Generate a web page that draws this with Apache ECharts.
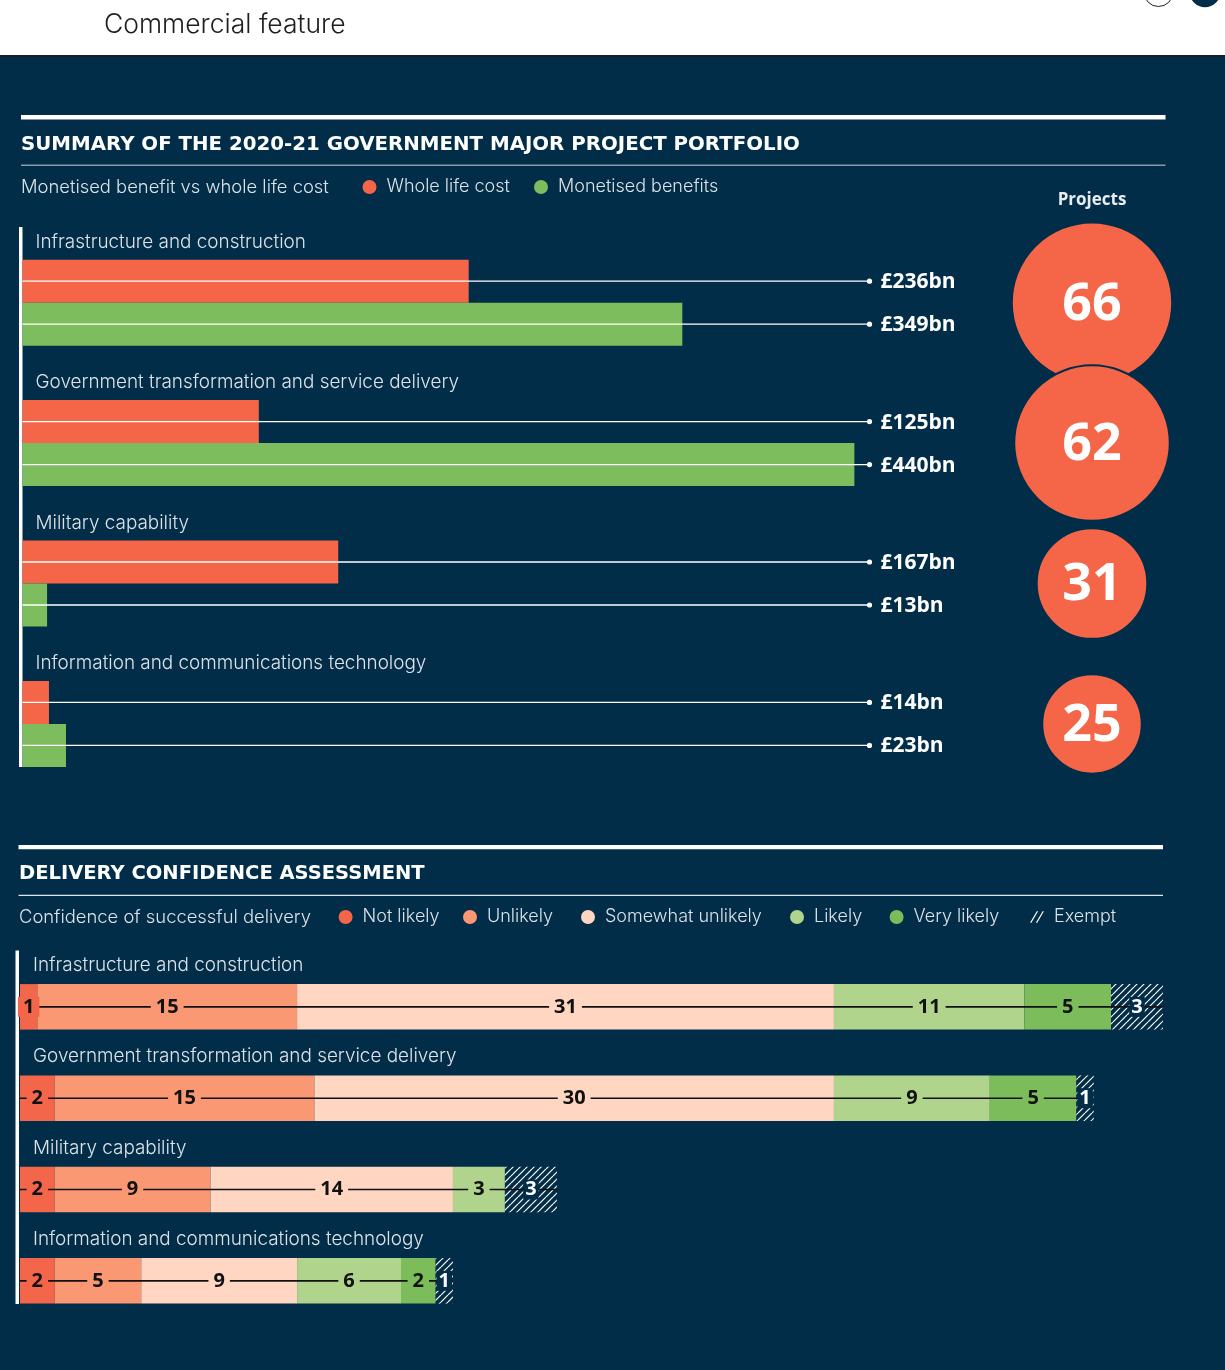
<!DOCTYPE html>
<html>
<head>
<meta charset="utf-8">
<title>Government major project portfolio</title>
<script src="https://cdn.jsdelivr.net/npm/echarts@6.0.0/dist/echarts.min.js"></script>
<style>
  html, body { margin: 0; padding: 0; background: #012d48; }
  #chart { width: 1225px; height: 1370px; }
</style>
</head>
<body>
<div id="chart"></div>
<script>
// portfolio categories (both panels)
const categories = [
  'Infrastructure and construction',
  'Government transformation and service delivery',
  'Military capability',
  'Information and communications technology'
];

// £bn
const wholeLifeCost = [236, 125, 167, 14];
const monetisedBenefits = [349, 440, 13, 23];
const projectCounts = [66, 62, 31, 25];

// delivery confidence, number of projects
const confidenceLevels = ['Not likely', 'Unlikely', 'Somewhat unlikely', 'Likely', 'Very likely', 'Exempt'];
const notLikely = [1, 2, 2, 2];
const unlikely = [15, 15, 9, 5];
const somewhatUnlikely = [31, 30, 14, 9];
const likely = [11, 9, 3, 6];
const veryLikely = [5, 5, 0, 2];
const exempt = [3, 1, 3, 1];

const NAVY = '#012d48';
const RED = '#f46647';
const GREEN = '#7dbd5e';
const levelColors = ['#f4664a', '#f99872', '#fed6c2', '#b1d48d', '#7cbc5b', NAVY];
const FONT = '"Open Sans", "DejaVu Sans", sans-serif';
const LIGHT_FONT = 'Inter, "Open Sans", sans-serif';
const TITLE_FONT = '"DejaVu Sans", sans-serif';
const LABEL_GREY = '#dce2e7';

const COST_BAR = 43;
const COST_MAX = 448;
const CONF_BAR = 45.5;

// hatch for exempt
const hatch = document.createElement('canvas');
hatch.width = hatch.height = 7;
(function () {
  const ctx = hatch.getContext('2d');
  ctx.fillStyle = NAVY;
  ctx.fillRect(0, 0, 7, 7);
  ctx.strokeStyle = '#ffffff';
  ctx.lineWidth = 1.2;
  [0, 7, 14].forEach(k => {
    ctx.beginPath();
    ctx.moveTo(k - 7, 7);
    ctx.lineTo(k, 0);
    ctx.stroke();
  });
})();

const levels = [notLikely, unlikely, somewhatUnlikely, likely, veryLikely, exempt];
const rowTotals = categories.map((c, i) => levels.reduce((s, arr) => s + arr[i], 0));

const leaderData = [];
categories.forEach((c, i) => {
  leaderData.push([wholeLifeCost[i], i, 0]);
  leaderData.push([monetisedBenefits[i], i, 1]);
});

const segmentData = [];
categories.forEach((c, row) => {
  let start = 0;
  levels.forEach((arr, k) => {
    const v = arr[row];
    if (v > 0) segmentData.push([start, start + v, row, v, k]);
    start += v;
  });
});

function categoryLabel(dy) {
  return function (params, api) {
    const p = api.coord([0, api.value(1)]);
    return {
      type: 'text',
      x: p[0] + 13,
      y: p[1] + dy,
      style: {
        text: categories[api.value(1)],
        fill: LABEL_GREY,
        fontSize: 18.9,
        fontFamily: LIGHT_FONT,
        fontWeight: 300,
        verticalAlign: 'middle'
      }
    };
  };
}

function renderLeader(params, api) {
  const row = api.value(1);
  const side = api.value(2) === 0 ? -1 : 1;
  const left = api.coord([0, row]);
  const right = api.coord([COST_MAX, row]);
  const y = left[1] + side * COST_BAR / 2;
  return {
    type: 'group',
    children: [
      { type: 'line', shape: { x1: left[0], y1: y, x2: right[0], y2: y }, style: { stroke: '#ffffff', lineWidth: 1.3 } },
      { type: 'circle', shape: { cx: right[0], cy: y, r: 2.6 }, style: { fill: '#ffffff' } },
      {
        type: 'text', x: right[0] + 11, y: y + 1,
        style: { text: '£' + api.value(0) + 'bn', fill: '#ffffff', fontSize: 21, fontWeight: 'bold', fontFamily: FONT, verticalAlign: 'middle' }
      }
    ]
  };
}

function renderRowLine(params, api) {
  const a = api.coord([0, api.value(1)]);
  const b = api.coord([api.value(0), api.value(1)]);
  return { type: 'line', shape: { x1: a[0], y1: a[1], x2: b[0], y2: b[1] }, style: { stroke: '#111111', lineWidth: 1.6 } };
}

function renderSegmentLabel(params, api) {
  const row = api.value(2);
  const p0 = api.coord([api.value(0), row]);
  const p1 = api.coord([api.value(1), row]);
  const k = api.value(4);
  const isExempt = k === 5;
  return {
    type: 'text',
    x: (p0[0] + p1[0]) / 2,
    y: p0[1],
    style: {
      text: String(api.value(3)),
      fill: isExempt ? '#ffffff' : '#111111',
      fontSize: 20,
      fontWeight: 'bold',
      fontFamily: FONT,
      align: 'center',
      verticalAlign: 'middle',
      backgroundColor: levelColors[k],
      padding: [0, isExempt ? 2 : 5]
    }
  };
}

const legendTextStyle = { color: LABEL_GREY, fontSize: 18, fontFamily: LIGHT_FONT, fontWeight: 300, padding: [0, 0, 0, 5] };
function legendItem(item, left, top) {
  return {
    data: [item], left: left, top: top, padding: 0,
    itemWidth: 14, itemHeight: 14, icon: 'circle',
    selectedMode: false, textStyle: legendTextStyle
  };
}

const chart = echarts.init(document.getElementById('chart'));

const option = {
  backgroundColor: NAVY,
  animation: false,
  textStyle: { fontFamily: FONT },
  graphic: [
    { type: 'rect', shape: { x: 0, y: 0, width: 1225, height: 55 }, style: { fill: '#ffffff' } },
    { type: 'rect', shape: { x: 0, y: 55, width: 1225, height: 1.5 }, style: { fill: '#1b1b1b' } },
    { type: 'text', x: 104, y: 25, style: { text: 'Commercial feature', fill: '#1d1d1d', fontSize: 26.5, fontWeight: 300, fontFamily: LIGHT_FONT, verticalAlign: 'middle' } },
    { type: 'circle', shape: { cx: 1158.5, cy: -8, r: 14.5 }, style: { fill: '#ffffff', stroke: '#222222', lineWidth: 1 } },
    { type: 'circle', shape: { cx: 1205, cy: -8, r: 15.3 }, style: { fill: NAVY } },

    // summary panel
    { type: 'rect', shape: { x: 21, y: 115, width: 1144.5, height: 4.5 }, style: { fill: '#ffffff' } },
    { type: 'text', x: 21, y: 145, style: { text: 'SUMMARY OF THE 2020-21 GOVERNMENT MAJOR PROJECT PORTFOLIO', fill: '#ffffff', fontSize: 19.8, fontWeight: 'bold', fontFamily: TITLE_FONT, verticalAlign: 'middle' } },
    { type: 'rect', shape: { x: 21, y: 164.5, width: 1144.5, height: 1.5 }, style: { fill: '#8a9aa8' } },
    { type: 'text', x: 21, y: 187, style: { text: 'Monetised benefit vs whole life cost', fill: LABEL_GREY, fontSize: 18.4, fontWeight: 300, fontFamily: LIGHT_FONT, verticalAlign: 'middle' } },
    { type: 'text', x: 1092, y: 200, style: { text: 'Projects', fill: '#e8ecef', fontSize: 17, fontWeight: 'bold', fontFamily: FONT, align: 'center', verticalAlign: 'middle' } },
    { type: 'rect', shape: { x: 19, y: 227, width: 3.5, height: 540 }, style: { fill: '#ffffff' } },

    // delivery confidence panel
    { type: 'rect', shape: { x: 18.5, y: 845, width: 1144.5, height: 4.3 }, style: { fill: '#ffffff' } },
    { type: 'text', x: 19, y: 874, style: { text: 'DELIVERY CONFIDENCE ASSESSMENT', fill: '#ffffff', fontSize: 19.5, fontWeight: 'bold', fontFamily: TITLE_FONT, verticalAlign: 'middle' } },
    { type: 'rect', shape: { x: 18.5, y: 894.8, width: 1144.5, height: 1.3 }, style: { fill: '#dfe5ea' } },
    { type: 'text', x: 19, y: 917, style: { text: 'Confidence of successful delivery', fill: LABEL_GREY, fontSize: 18.4, fontWeight: 300, fontFamily: LIGHT_FONT, verticalAlign: 'middle' } },
    { type: 'rect', shape: { x: 15.5, y: 950.5, width: 3.5, height: 353.5 }, style: { fill: '#ffffff' } }
  ],
  legend: [
    legendItem('Whole life cost', 362.5, 178),
    legendItem('Monetised benefits', 534, 178),
    legendItem('Not likely', 338.6, 908),
    legendItem('Unlikely', 463, 908),
    legendItem('Somewhat unlikely', 581, 908),
    legendItem('Likely', 790, 908),
    legendItem('Very likely', 889.6, 908),
    legendItem({
      name: 'Exempt',
      icon: 'path://M0,12L7,0L8.4,0L1.4,12Z M6,12L13,0L14.4,0L7.4,12Z',
      itemStyle: { color: '#ffffff' }
    }, 1030, 908)
  ],
  grid: [
    { left: 22.5, top: 232.5, width: 847, height: 561.6 },
    { left: 1012, top: 232.5, width: 160, height: 561.6 },
    { left: 20, top: 961.2, width: 1143, height: 365.3 }
  ],
  xAxis: [
    { gridIndex: 0, type: 'value', min: 0, max: COST_MAX, show: false },
    { gridIndex: 1, type: 'value', min: 0, max: 2, show: false },
    { gridIndex: 2, type: 'value', min: 0, max: Math.max(...rowTotals), show: false }
  ],
  yAxis: [
    { gridIndex: 0, type: 'category', data: categories, inverse: true, show: false },
    { gridIndex: 1, type: 'category', data: categories, inverse: true, show: false },
    { gridIndex: 2, type: 'category', data: categories, inverse: true, show: false }
  ],
  series: [
    {
      name: 'Whole life cost', type: 'bar', xAxisIndex: 0, yAxisIndex: 0,
      data: wholeLifeCost, barWidth: COST_BAR, barGap: '0%',
      itemStyle: { color: RED }, z: 2
    },
    {
      name: 'Monetised benefits', type: 'bar', xAxisIndex: 0, yAxisIndex: 0,
      data: monetisedBenefits, barWidth: COST_BAR, barGap: '0%',
      itemStyle: { color: GREEN }, z: 2
    },
    {
      type: 'custom', xAxisIndex: 0, yAxisIndex: 0, z: 3,
      data: leaderData, encode: { x: 0, y: 1 },
      renderItem: renderLeader
    },
    {
      type: 'custom', xAxisIndex: 0, yAxisIndex: 0, z: 3,
      data: categories.map((c, i) => [0, i]), encode: { x: 0, y: 1 },
      renderItem: categoryLabel(-60.5)
    },
    {
      name: 'Projects', type: 'scatter', xAxisIndex: 1, yAxisIndex: 1,
      data: projectCounts.map((v, i) => [1, i, v]),
      symbolSize: d => 19.5 * Math.sqrt(d[2]) + 2,
      itemStyle: { color: RED, opacity: 1, borderColor: NAVY, borderWidth: 2 },
      label: {
        show: true, position: 'inside', offset: [0, 2], formatter: p => p.value[2],
        color: '#ffffff', fontSize: 52, fontWeight: 'bold', fontFamily: FONT
      },
      z: 2
    },
    ...confidenceLevels.map((name, k) => ({
      name: name, type: 'bar', stack: 'confidence',
      xAxisIndex: 2, yAxisIndex: 2,
      data: levels[k], barWidth: CONF_BAR,
      itemStyle: { color: k === 5 ? { image: hatch, repeat: 'repeat' } : levelColors[k] },
      z: 2
    })),
    {
      type: 'custom', xAxisIndex: 2, yAxisIndex: 2, z: 3,
      data: rowTotals.map((t, i) => [t, i]), encode: { x: 0, y: 1 },
      renderItem: renderRowLine
    },
    {
      type: 'custom', xAxisIndex: 2, yAxisIndex: 2, z: 4,
      data: segmentData, encode: { x: [0, 1], y: 2 },
      renderItem: renderSegmentLabel
    },
    {
      type: 'custom', xAxisIndex: 2, yAxisIndex: 2, z: 3,
      data: categories.map((c, i) => [0, i]), encode: { x: 0, y: 1 },
      renderItem: categoryLabel(-41.5)
    }
  ]
};

chart.setOption(option);
</script>
</body>
</html>
